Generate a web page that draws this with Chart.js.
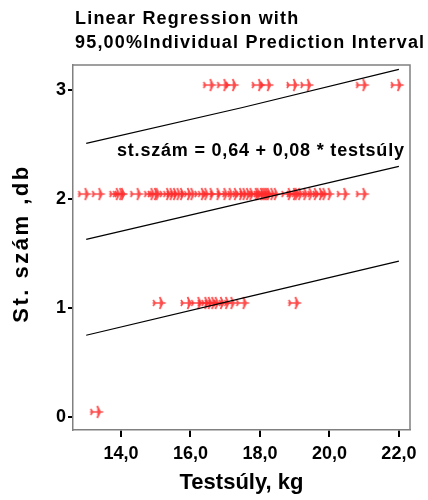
<!DOCTYPE html>
<html>
<head>
<meta charset="utf-8">
<script src="https://cdn.jsdelivr.net/npm/chart.js@4"></script>
<style>
  html, body { margin: 0; padding: 0; background: #fff; }
  #wrap { width: 428px; height: 500px; position: relative; }
</style>
</head>
<body>
<div id="wrap"><canvas id="c" width="428" height="500"></canvas></div>
<script>
// ---- data ----
const titleLines = ["Linear Regression with", "95,00%Individual Prediction Interval"];
const equationText = "st.szám = 0,64 + 0,08 * testsúly";
const xTitle = "Testsúly, kg";
const yTitle = "St. szám ,db";
const xTicks = [14, 16, 18, 20, 22];
const yTicks = [0, 1, 2, 3];
const countLevels = [0, 1, 2, 3];
const weightsAt0 = [13.3];
const weightsAt1 = [15.1, 15.9, 16.2, 16.4, 16.5, 16.6, 16.7, 16.85, 17.0, 17.15, 17.5, 19.0];
const weightsAt2 = [12.95, 13.35, 13.85, 13.95, 14.0, 14.45, 14.85, 14.95, 15.0, 15.3, 15.4, 15.5,
  15.6, 15.7, 15.9, 16.0, 16.3, 16.4, 16.55, 16.75, 16.95, 17.1, 17.25, 17.4, 17.5, 17.6, 17.7,
  17.85, 17.9, 18.0, 18.05, 18.1, 18.15, 18.2, 18.3, 18.4, 18.8, 18.95, 19.0, 19.1, 19.25, 19.4,
  19.55, 19.7, 19.8, 19.95, 20.4, 20.95];
const weightsAt3 = [16.55, 16.95, 17.2, 17.95, 18.2, 18.95, 19.35, 20.95, 21.95];
const lineX = [13, 17.5, 22];
const fitY = [1.63, 1.965, 2.30];
const upperY = [2.51, 2.84, 3.19];
const lowerY = [0.75, 1.09, 1.43];

// ---- build ----
const groups = [weightsAt0, weightsAt1, weightsAt2, weightsAt3];
const points = [];
groups.forEach((ws, i) => ws.forEach(w => points.push({ x: w, y: countLevels[i] })));
const toXY = ys => lineX.map((x, i) => ({ x, y: ys[i] }));

// marker glyph (plane-like symbol), drawn slightly above its data point like the original
function makeMarker() {
  const c = document.createElement('canvas');
  c.width = 20; c.height = 30;
  const g = c.getContext('2d');
  g.translate(10, 15 - 5);
  g.strokeStyle = 'rgba(255,45,45,0.85)';
  g.lineWidth = 1.7;
  g.lineCap = 'butt';
  g.beginPath();
  g.moveTo(-6.5, 0); g.lineTo(6.5, 0);
  g.moveTo(3.5, 0); g.lineTo(0.5, -6);
  g.moveTo(3.5, 0); g.lineTo(0.5, 6);
  g.moveTo(1.5, -4); g.lineTo(1.5, 4);
  g.moveTo(-4, 0); g.lineTo(-6, -3);
  g.moveTo(-4, 0); g.lineTo(-6, 3);
  g.stroke();
  return c;
}
const marker = makeMarker();

const FONT = "'Liberation Sans', Arial, sans-serif";

const decorPlugin = {
  id: 'decor',
  afterDraw(chart) {
    const { ctx, chartArea: a } = chart;
    ctx.save();
    ctx.strokeStyle = '#808080';
    ctx.lineWidth = 1.5;
    ctx.beginPath();
    ctx.moveTo(a.left, a.top); ctx.lineTo(a.right, a.top); ctx.lineTo(a.right, a.bottom);
    ctx.stroke();
    ctx.fillStyle = '#000';
    ctx.textAlign = 'left';
    ctx.textBaseline = 'alphabetic';
    ctx.font = 'bold 18px ' + FONT;
    ctx.letterSpacing = '1.2px';
    ctx.fillText(titleLines[0], 75, 24);
    ctx.fillText(titleLines[1], 75, 48);
    ctx.font = 'bold 18px ' + FONT;
    ctx.letterSpacing = '0.8px';
    ctx.fillText(equationText, 117, 156);
    // y axis title
    ctx.font = 'bold 22px ' + FONT;
    ctx.letterSpacing = '2.5px';
    ctx.translate(22, (a.top + a.bottom) / 2 - 4);
    ctx.rotate(-Math.PI / 2);
    ctx.textAlign = 'center';
    ctx.textBaseline = 'middle';
    ctx.fillText(yTitle, 0, 0);
    ctx.restore();
  }
};

new Chart(document.getElementById('c'), {
  type: 'scatter',
  data: {
    datasets: [
      { data: points, pointStyle: marker, pointRadius: 6, pointHoverRadius: 6, order: 2 },
      { type: 'line', data: toXY(upperY), borderColor: '#000', borderWidth: 1.2, pointRadius: 0, fill: false, order: 1 },
      { type: 'line', data: toXY(fitY), borderColor: '#000', borderWidth: 1.2, pointRadius: 0, fill: false, order: 1 },
      { type: 'line', data: toXY(lowerY), borderColor: '#000', borderWidth: 1.2, pointRadius: 0, fill: false, order: 1 }
    ]
  },
  options: {
    responsive: false,
    animation: false,
    devicePixelRatio: 1,
    layout: { padding: { top: 65, right: 18, left: 0, bottom: 0 } },
    plugins: { legend: { display: false }, tooltip: { enabled: false }, title: { display: false } },
    scales: {
      x: {
        type: 'linear', min: 12.62, max: 22.32,
        afterBuildTicks: s => { s.ticks = xTicks.map(v => ({ value: v })); },
        afterFit: s => { s.height = 70; },
        ticks: { color: '#000', font: { family: FONT, size: 18, weight: 'bold' }, padding: 6,
                 callback: v => v.toFixed(1).replace('.', ',') },
        grid: { drawOnChartArea: false, tickLength: 7, color: '#000', lineWidth: 2 },
        border: { color: '#808080', width: 1.5 },
        title: { display: true, text: xTitle, color: '#000', font: { family: FONT, size: 22, weight: 'bold' },
                 padding: { top: 0, bottom: 4 } }
      },
      y: {
        type: 'linear', min: -0.12, max: 3.23,
        afterBuildTicks: s => { s.ticks = yTicks.map(v => ({ value: v })); },
        afterFit: s => { s.width = 73; },
        ticks: { color: '#000', font: { family: FONT, size: 18, weight: 'bold' }, padding: 2,
                 callback: v => String(v) },
        grid: { drawOnChartArea: false, tickLength: 5, color: '#000', lineWidth: 2 },
        border: { color: '#808080', width: 1.5 },
        title: { display: false }
      }
    }
  },
  plugins: [decorPlugin]
});
</script>
</body>
</html>
